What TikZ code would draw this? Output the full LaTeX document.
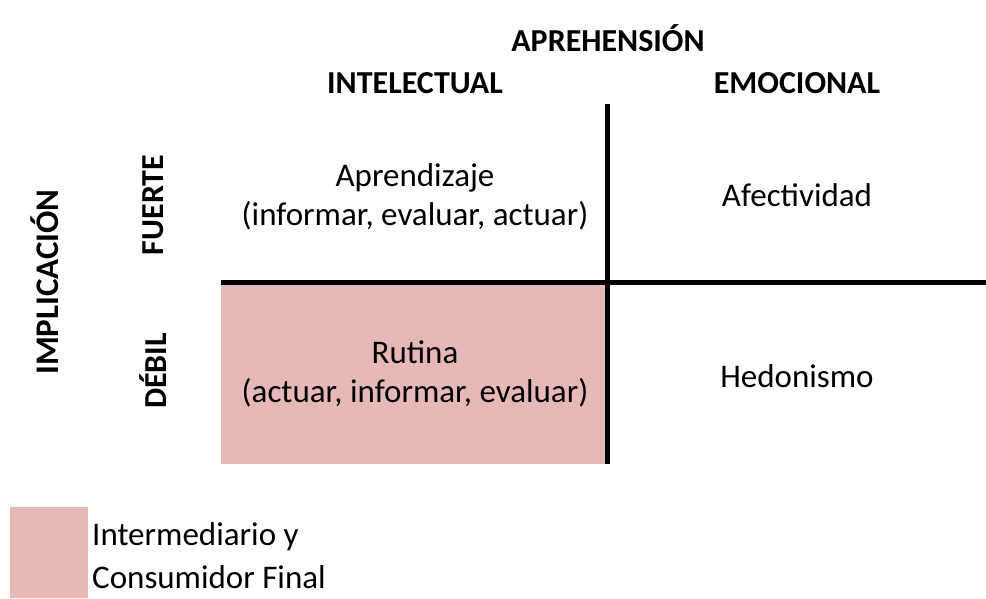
\documentclass[tikz,border=0pt]{standalone}
\usepackage{fontspec}
\setmainfont{Carlito}
\usepackage{tikz}
\usetikzlibrary{positioning}

\definecolor{rosa}{HTML}{E6B8B7}

\begin{document}
\begin{tikzpicture}[x=1pt,y=-1pt]
        \useasboundingbox (0,0) rectangle (986,599);
        \fill[rosa] (221,284) rectangle (607,464);
        \fill[rosa] (10,507) rectangle (88,598);

        \coordinate (vtop) at (607,104);
        \coordinate (vbot) at (607,464);
        \coordinate (hleft) at (221,282);
        \coordinate (hright) at (986,282);

        \begin{scope}[every node/.style={font=\fontsize{32}{38}\selectfont\bfseries}]
            \node (aprehension) at (608,38) {APREHENSIÓN};
            \node (intelectual) at (415,83) {INTELECTUAL};
            \node (emocional) at (797,83) {EMOCIONAL};
            \node[rotate=90] (fuerte) at (153,205) {FUERTE};
            \node[rotate=90] (debil) at (153,371) {DÉBIL};
            \node[rotate=90,font=\fontsize{33}{38}\selectfont\bfseries] (implicacion) at (45,282) {IMPLICACIÓN};
        \end{scope}

        \begin{scope}[every node/.style={font=\fontsize{33}{39}\selectfont,align=center}]
            \node (aprendizaje) at (415,197) {Aprendizaje\\(informar, evaluar, actuar)};
            \node (afectividad) at (797,195) {Afectividad};
            \node (rutina) at (415,374) {Rutina\\(actuar, informar, evaluar)};
            \node (hedonismo) at (797,376) {Hedonismo};
            \node[font=\fontsize{33}{43}\selectfont,align=left,anchor=west,inner sep=0pt] (leyenda) at (92,556) {Intermediario y\\Consumidor Final};
        \end{scope}

        \begin{scope}[line width=5pt]
            \draw (vtop) -- (vbot);
            \draw (hleft) -- (hright);
        \end{scope}
    \end{tikzpicture}
\end{document}
